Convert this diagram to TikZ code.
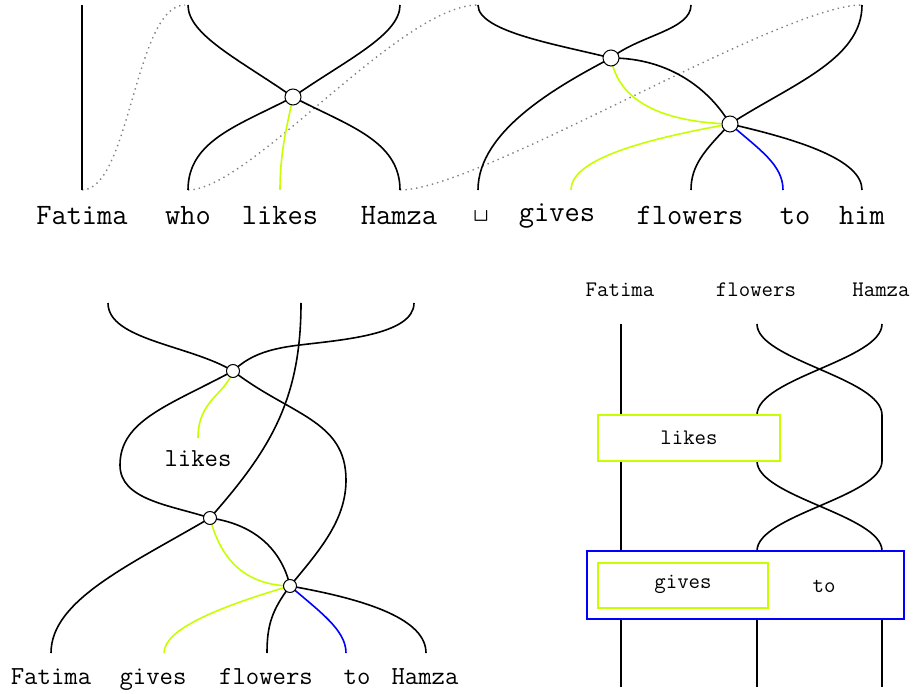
\documentclass[tikz,border=0pt]{standalone}
\usepackage{fontspec}
\definecolor{limeg}{RGB}{200,255,0}
\begin{document}
\begin{tikzpicture}[x=0.5pt,y=-0.5pt,
  wire/.style={line width=0.8pt},
  gwire/.style={line width=0.8pt,draw=limeg},
  bwire/.style={line width=0.8pt,draw=blue},
  dwire/.style={line width=0.7pt,draw=gray,dotted},
  dotA/.style={circle,draw,fill=white,line width=0.5pt,inner sep=0pt,minimum size=8pt},
  dotB/.style={circle,draw,fill=white,line width=0.5pt,inner sep=0pt,minimum size=6.5pt},
  wtop/.style={font=\fontsize{14.8}{16}\selectfont\ttfamily,anchor=base},
  wbl/.style={font=\fontsize{13}{15}\selectfont\ttfamily,anchor=base},
  wbr/.style={font=\fontsize{11.1}{13}\selectfont\ttfamily},
  gbox/.style={draw=limeg,line width=0.65pt,fill=white,inner sep=0pt},
  bbox/.style={draw=blue,line width=0.65pt,inner sep=0pt}]
\useasboundingbox (0,0) rectangle (915,694);

% ================= TOP DIAGRAM =================
\coordinate (t1) at (293,97);
\coordinate (tA) at (611,58);
\coordinate (tB) at (730,124);
% top ends
\coordinate (fatT) at (82,5);
\coordinate (p1) at (185,5);
\coordinate (whoT) at (188,5);
\coordinate (hamT) at (400,5);
\coordinate (gvT) at (478,5);
\coordinate (gvT2) at (691,5);
\coordinate (himT) at (862,5);
% bottom ends
\coordinate (fatB) at (82,190);
\coordinate (whoB) at (188,190);
\coordinate (likB) at (280,190);
\coordinate (hamB) at (400,190);
\coordinate (spB) at (478,190);
\coordinate (givB) at (571,190);
\coordinate (flwB) at (691,190);
\coordinate (toB) at (783,190);
\coordinate (himB) at (862,190);

\draw[dwire] (fatB) .. controls (130,190) and (135,5) .. (p1);
\draw[dwire] (whoB) .. controls (250,190) and (400,5) .. (gvT);
\draw[dwire] (hamB) .. controls (480,190) and (780,5) .. (himT);

\draw[wire] (fatT) -- (fatB);
\draw[wire] (whoT) .. controls (188,35) and (240,60) .. (t1);
\draw[wire] (hamT) .. controls (400,35) and (346,60) .. (t1);
\draw[wire] (t1) .. controls (240,125) and (188,140) .. (whoB);
\draw[wire] (t1) .. controls (346,125) and (400,140) .. (hamB);
\draw[gwire] (t1) .. controls (288,122) and (280,150) .. (likB);

\draw[wire] (gvT) .. controls (478,32) and (560,45) .. (tA);
\draw[wire] (gvT2) .. controls (691,30) and (640,35) .. (tA);
\draw[wire] (tA) .. controls (560,85) and (478,130) .. (spB);
\draw[wire] (tA) .. controls (670,58) and (710,90) .. (tB);
\draw[gwire] (tA) .. controls (618,100) and (660,122) .. (tB);
\draw[gwire] (tB) .. controls (640,140) and (571,160) .. (givB);
\draw[wire] (tB) .. controls (705,150) and (691,165) .. (flwB);
\draw[bwire] (tB) .. controls (760,150) and (783,165) .. (toB);
\draw[wire] (tB) .. controls (800,140) and (862,160) .. (himB);
\draw[wire] (tB) .. controls (790,85) and (862,60) .. (himT);

\node[dotA] (d1) at (t1) {};
\node[dotA] (dA) at (tA) {};
\node[dotA] (dB) at (tB) {};

\node[wtop] (lfat) at (82,225) {Fatima};
\node[wtop] (lwho) at (188,225) {who};
\node[wtop] (llik) at (280,225) {likes};
\node[wtop] (lham) at (399,225) {Hamza};
\node[wtop] (lsp) at (481,218) {\textvisiblespace};
\node[wtop] (lgiv) at (557,222) {gives};
\node[wtop] (lflw) at (690,225) {flowers};
\node[wtop] (lto) at (795,225) {to};
\node[wtop] (lhim) at (862,225) {him};

% ================= BOTTOM LEFT =================
\coordinate (C) at (233,371);
\coordinate (D) at (210,518);
\coordinate (E) at (290,586);
\coordinate (q1) at (108,303);
\coordinate (q2) at (301,303);
\coordinate (q3) at (414,303);
\coordinate (qm) at (300,345);
\coordinate (ql) at (120,465);
\coordinate (qr) at (346,480);
\coordinate (qg) at (198,438);
\coordinate (b1) at (51,653);
\coordinate (b2) at (164,653);
\coordinate (b3) at (267,653);
\coordinate (b4) at (346,653);
\coordinate (b5) at (426,653);

\draw[wire] (q1) .. controls (108,340) and (190,345) .. (C);
\draw[wire] (q3) .. controls (414,335) and (340,340) .. (qm) .. controls (265,349) and (248,357) .. (C);
\draw[wire] (q2) .. controls (301,400) and (270,450) .. (D);
\draw[wire] (C) .. controls (170,405) and (120,420) .. (ql) .. controls (120,500) and (170,505) .. (D);
\draw[wire] (C) .. controls (290,415) and (346,420) .. (qr) .. controls (346,520) and (320,550) .. (E);
\draw[gwire] (C) .. controls (225,395) and (198,400) .. (qg);
\draw[wire] (D) .. controls (130,565) and (51,600) .. (b1);
\draw[gwire] (D) .. controls (222,565) and (250,585) .. (E);
\draw[wire] (D) .. controls (260,525) and (283,555) .. (E);
\draw[gwire] (E) .. controls (215,608) and (164,630) .. (b2);
\draw[wire] (E) .. controls (272,610) and (267,625) .. (b3);
\draw[bwire] (E) .. controls (320,612) and (346,630) .. (b4);
\draw[wire] (E) .. controls (370,600) and (426,620) .. (b5);

\node[dotB] (dC) at (C) {};
\node[dotB] (dD) at (D) {};
\node[dotB] (dE) at (E) {};

\node[wbl] (llikes) at (198,467) {likes};
\node[wbl] (bfat) at (51,684) {Fatima};
\node[wbl] (bgiv) at (153,684) {gives};
\node[wbl] (bflw) at (266,684) {flowers};
\node[wbl] (bto) at (357,684) {to};
\node[wbl] (bham) at (425,684) {Hamza};

% ================= BOTTOM RIGHT =================
\node[wbr,anchor=base] (rfat) at (620,297) {Fatima};
\node[wbr,anchor=base] (rflw) at (756,297) {flowers};
\node[wbr,anchor=base] (rham) at (881,297) {Hamza};

\coordinate (r1) at (621,324);
\coordinate (r2) at (757,324);
\coordinate (r3) at (882,324);
\coordinate (r2a) at (757,415);
\coordinate (r3a) at (882,415);
\coordinate (r2b) at (757,461);
\coordinate (r3b) at (882,461);
\coordinate (r2c) at (757,551);
\coordinate (r3c) at (882,551);
\coordinate (r1z) at (621,687);
\coordinate (r2z) at (757,687);
\coordinate (r3z) at (882,687);

\draw[wire] (r1) -- (621,551);
\draw[wire] (r2) .. controls (757,360) and (882,378) .. (r3a);
\draw[wire] (r3) .. controls (882,360) and (757,378) .. (r2a);
\draw[wire] (r3a) -- (r3b);
\draw[wire] (r2b) .. controls (757,497) and (882,515) .. (r3c);
\draw[wire] (r3b) .. controls (882,497) and (757,515) .. (r2c);
\draw[wire] (621,619) -- (r1z);
\draw[wire] (757,619) -- (r2z);
\draw[wire] (882,619) -- (r3z);

\node[gbox,minimum width=91pt,minimum height=23pt] (likesbox) at (689,438) {};
\node[wbr] (likestxt) at (689,438) {likes};
\node[bbox,minimum width=158.5pt,minimum height=34pt] (tobox) at (745.5,585) {};
\node[gbox,minimum width=85pt,minimum height=22.5pt] (givesbox) at (683,585.5) {};
\node[wbr] (givestxt) at (683,584) {gives};
\node[wbr] (totxt) at (824,586) {to};
\end{tikzpicture}
\end{document}
